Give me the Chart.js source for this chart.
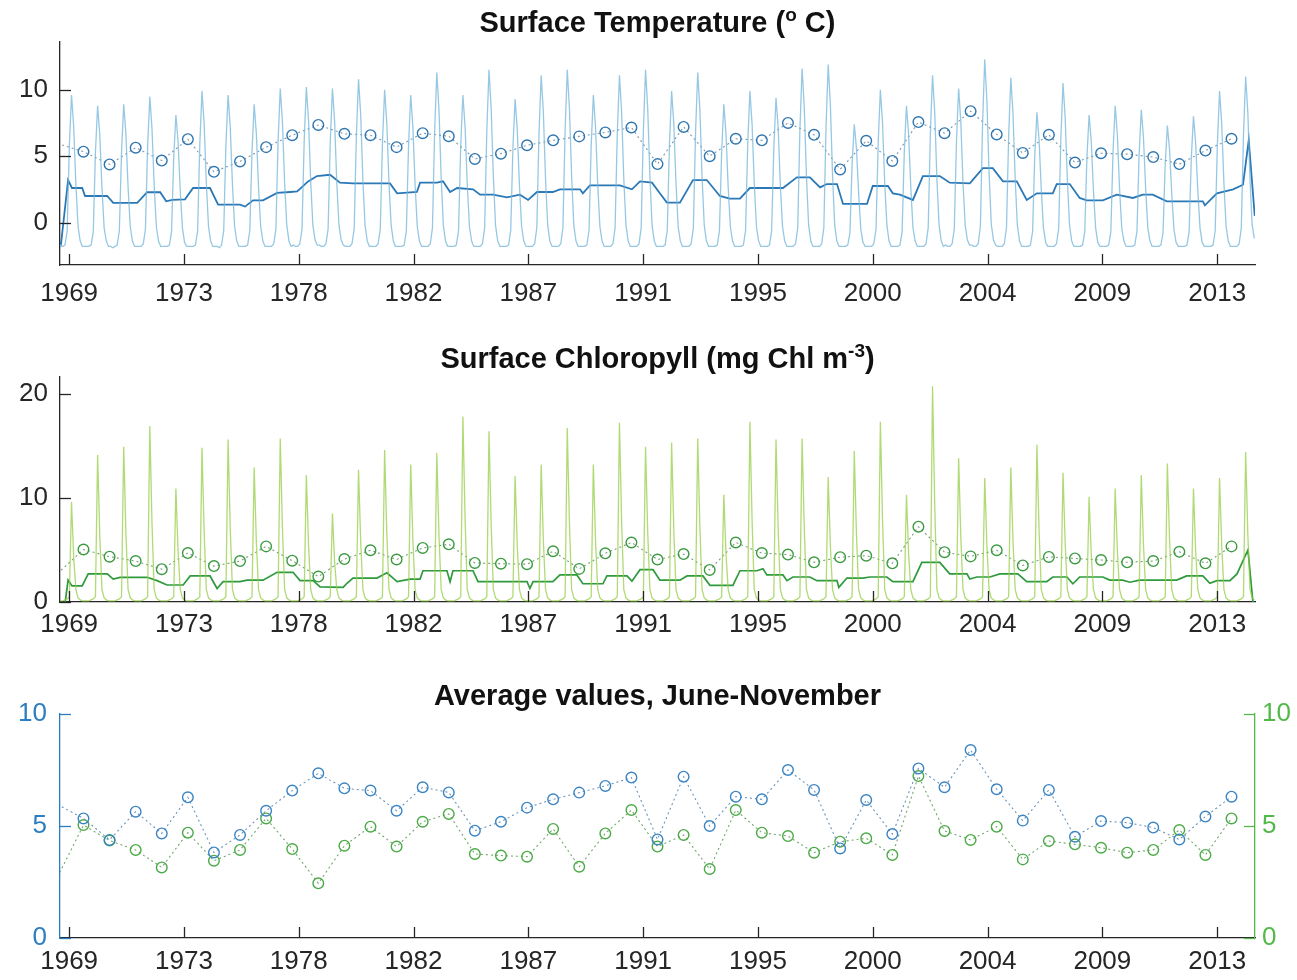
<!DOCTYPE html>
<html>
<head>
<meta charset="utf-8">
<title>Surface temperature and chlorophyll</title>
<script src="https://cdn.jsdelivr.net/npm/chart.js@4.4.1/dist/chart.umd.min.js"></script>
<style>
  body { margin: 0; background: #fff; }
  .panel { position: absolute; left: 0; width: 1297px; }
</style>
</head>
<body>
<div class="panel" style="top:0;height:315px"><canvas id="tempChart"></canvas></div>
<div class="panel" style="top:320px;height:330px"><canvas id="chlChart"></canvas></div>
<div class="panel" style="top:660px;height:320px"><canvas id="avgChart"></canvas></div>

<script>
// x axis ticks (decimal years) and their labels
const tickPos = [1969.45, 1973.85, 1978.25, 1982.65, 1987.05, 1991.45, 1995.85, 2000.25, 2004.65, 2009.05, 2013.45];
const tickLabels = ["1969", "1973", "1978", "1982", "1987", "1991", "1995", "2000", "2004", "2009", "2013"];

// monthly values, one row per year (Jan..Dec), last year ends in November
const years = [1969, 1970, 1971, 1972, 1973, 1974, 1975, 1976, 1977, 1978, 1979, 1980, 1981, 1982, 1983, 1984,
  1985, 1986, 1987, 1988, 1989, 1990, 1991, 1992, 1993, 1994, 1995, 1996, 1997, 1998, 1999, 2000, 2001,
  2002, 2003, 2004, 2005, 2006, 2007, 2008, 2009, 2010, 2011, 2012, 2013, 2014];

const tempMonthly = [
  [-1.6,-1.8,-1.8,-1.7,-0.6,5.8,9.6,7.2,2.9,-0.3,-1.4,-1.8],
  [-1.8,-1.8,-1.8,-1.7,-0.7,5.3,8.8,6.6,2.6,-0.4,-1.4,-1.8],
  [-1.8,-1.9,-1.8,-1.7,-0.6,5.3,8.9,6.7,2.7,-0.3,-1.4,-1.8],
  [-1.8,-1.8,-1.8,-1.6,-0.5,5.7,9.5,7.1,2.9,-0.3,-1.4,-1.8],
  [-1.8,-1.8,-1.8,-1.7,-0.7,4.9,8.1,6.1,2.4,-0.4,-1.5,-1.8],
  [-1.8,-1.8,-1.8,-1.7,-0.6,5.9,9.9,7.4,3.0,-0.3,-1.4,-1.8],
  [-1.8,-1.8,-1.9,-1.7,-0.6,5.8,9.6,7.2,2.9,-0.3,-1.4,-1.8],
  [-1.8,-1.8,-1.8,-1.7,-0.6,5.3,8.9,6.7,2.7,-0.3,-1.4,-1.8],
  [-1.8,-1.8,-1.8,-1.6,-0.5,6.1,10.1,7.6,3.0,-0.2,-1.4,-1.8],
  [-1.7,-1.8,-1.8,-1.6,-0.5,6.1,10.2,7.7,3.1,-0.2,-1.3,-1.7],
  [-1.7,-1.8,-1.8,-1.6,-0.5,6.1,10.1,7.6,3.0,-0.2,-1.3,-1.7],
  [-1.8,-1.8,-1.8,-1.6,-0.5,6.5,10.8,8.1,3.2,-0.2,-1.4,-1.8],
  [-1.8,-1.8,-1.8,-1.6,-0.5,6.0,10.0,7.5,3.0,-0.2,-1.4,-1.8],
  [-1.8,-1.8,-1.8,-1.7,-0.6,5.8,9.6,7.2,2.9,-0.3,-1.4,-1.8],
  [-1.8,-1.8,-1.8,-1.6,-0.4,6.8,11.3,8.5,3.4,-0.2,-1.4,-1.8],
  [-1.8,-1.8,-1.8,-1.7,-0.6,5.8,9.6,7.2,2.9,-0.3,-1.4,-1.8],
  [-1.8,-1.8,-1.8,-1.6,-0.4,6.9,11.5,8.6,3.5,-0.2,-1.4,-1.8],
  [-1.8,-1.8,-1.8,-1.7,-0.6,5.6,9.3,7.0,2.8,-0.3,-1.4,-1.8],
  [-1.8,-1.8,-1.8,-1.6,-0.4,6.7,11.1,8.3,3.3,-0.2,-1.4,-1.8],
  [-1.8,-1.8,-1.8,-1.6,-0.4,6.9,11.5,8.6,3.5,-0.2,-1.4,-1.8],
  [-1.8,-1.8,-1.8,-1.7,-0.6,5.8,9.6,7.2,2.9,-0.3,-1.4,-1.8],
  [-1.8,-1.8,-1.8,-1.6,-0.4,6.7,11.1,8.3,3.3,-0.2,-1.4,-1.8],
  [-1.8,-1.8,-1.8,-1.6,-0.4,6.9,11.5,8.6,3.5,-0.2,-1.4,-1.8],
  [-1.8,-1.8,-1.8,-1.7,-0.6,5.9,9.9,7.4,3.0,-0.3,-1.4,-1.8],
  [-1.8,-1.8,-1.8,-1.6,-0.4,6.8,11.3,8.5,3.4,-0.2,-1.4,-1.8],
  [-1.8,-1.8,-1.8,-1.7,-0.6,5.3,8.9,6.7,2.7,-0.3,-1.4,-1.8],
  [-1.8,-1.8,-1.8,-1.7,-0.6,5.9,9.9,7.4,3.0,-0.3,-1.4,-1.8],
  [-1.8,-1.8,-1.8,-1.7,-0.6,5.6,9.4,7.1,2.8,-0.3,-1.4,-1.8],
  [-1.8,-1.8,-1.8,-1.6,-0.4,7.0,11.6,8.7,3.5,-0.2,-1.4,-1.8],
  [-1.8,-1.8,-1.8,-1.6,-0.4,7.1,11.9,8.9,3.6,-0.2,-1.4,-1.8],
  [-1.8,-1.8,-1.8,-1.7,-0.8,4.4,7.4,5.6,2.2,-0.5,-1.5,-1.8],
  [-1.8,-1.8,-1.8,-1.6,-0.5,6.0,10.0,7.5,3.0,-0.2,-1.4,-1.8],
  [-1.8,-1.8,-1.8,-1.7,-0.7,5.3,8.8,6.6,2.6,-0.4,-1.4,-1.8],
  [-1.8,-1.8,-1.8,-1.6,-0.4,6.7,11.1,8.3,3.3,-0.2,-1.4,-1.8],
  [-1.7,-1.8,-1.8,-1.6,-0.5,6.1,10.1,7.6,3.0,-0.2,-1.3,-1.7],
  [-1.7,-1.8,-1.8,-1.6,-0.3,7.4,12.3,9.2,3.7,-0.1,-1.3,-1.7],
  [-1.8,-1.8,-1.8,-1.6,-0.4,6.5,10.9,8.2,3.3,-0.2,-1.4,-1.8],
  [-1.8,-1.8,-1.8,-1.7,-0.7,5.0,8.3,6.2,2.5,-0.4,-1.5,-1.8],
  [-1.8,-1.8,-1.8,-1.6,-0.5,6.3,10.5,7.9,3.2,-0.2,-1.4,-1.8],
  [-1.8,-1.8,-1.8,-1.7,-0.7,4.9,8.1,6.1,2.4,-0.4,-1.5,-1.8],
  [-1.8,-1.8,-1.8,-1.7,-0.7,5.3,8.8,6.6,2.6,-0.4,-1.4,-1.8],
  [-1.8,-1.8,-1.8,-1.7,-0.7,5.1,8.5,6.4,2.6,-0.4,-1.4,-1.8],
  [-1.8,-1.8,-1.8,-1.7,-0.8,4.4,7.3,5.5,2.2,-0.5,-1.5,-1.8],
  [-1.8,-1.8,-1.8,-1.7,-0.7,4.8,8.0,6.0,2.4,-0.4,-1.5,-1.8],
  [-1.8,-1.8,-1.8,-1.7,-0.6,5.9,9.9,7.4,3.0,-0.3,-1.4,-1.8],
  [-1.8,-1.8,-1.8,-1.6,-0.4,6.6,11.0,8.3,3.3,-0.2,-1.2]
];

const chlMonthly = [
  [0.1,0.1,0.1,0.2,0.3,0.5,9.6,4.3,1.2,0.4,0.2,0.1],
  [0.1,0.1,0.1,0.2,0.3,0.5,14.1,6.3,1.2,0.4,0.2,0.1],
  [0.1,0.1,0.1,0.2,0.3,0.5,14.9,6.7,1.2,0.4,0.2,0.1],
  [0.1,0.1,0.1,0.2,0.3,0.5,16.9,7.6,1.2,0.4,0.2,0.1],
  [0.1,0.1,0.1,0.2,0.3,0.5,10.9,4.9,1.2,0.4,0.2,0.1],
  [0.1,0.1,0.1,0.2,0.3,0.5,14.8,6.7,1.2,0.4,0.2,0.1],
  [0.1,0.1,0.1,0.2,0.3,0.5,15.6,7.0,1.2,0.4,0.2,0.1],
  [0.1,0.1,0.1,0.2,0.3,0.5,12.9,5.8,1.2,0.4,0.2,0.1],
  [0.1,0.1,0.1,0.2,0.3,0.5,15.7,7.1,1.2,0.4,0.2,0.1],
  [0.1,0.1,0.1,0.2,0.3,0.5,12.2,5.5,1.2,0.4,0.2,0.1],
  [0.1,0.1,0.1,0.2,0.3,0.5,8.5,3.8,1.2,0.4,0.2,0.1],
  [0.1,0.1,0.1,0.2,0.3,0.5,12.7,5.7,1.2,0.4,0.2,0.1],
  [0.1,0.1,0.1,0.2,0.3,0.5,14.6,6.6,1.2,0.4,0.2,0.1],
  [0.1,0.1,0.1,0.2,0.3,0.5,13.2,5.9,1.2,0.4,0.2,0.1],
  [0.1,0.1,0.1,0.2,0.3,0.5,14.3,6.4,1.2,0.4,0.2,0.1],
  [0.1,0.1,0.1,0.2,0.3,0.5,17.8,8.0,1.2,0.4,0.2,0.1],
  [0.1,0.1,0.1,0.2,0.3,0.5,16.4,7.4,1.2,0.4,0.2,0.1],
  [0.1,0.1,0.1,0.2,0.3,0.5,12.1,5.4,1.2,0.4,0.2,0.1],
  [0.1,0.1,0.1,0.2,0.3,0.5,13.2,5.9,1.2,0.4,0.2,0.1],
  [0.1,0.1,0.1,0.2,0.3,0.5,16.7,7.5,1.2,0.4,0.2,0.1],
  [0.1,0.1,0.1,0.2,0.3,0.5,13.2,5.9,1.2,0.4,0.2,0.1],
  [0.1,0.1,0.1,0.2,0.3,0.5,17.2,7.7,1.2,0.4,0.2,0.1],
  [0.1,0.1,0.1,0.2,0.3,0.5,14.9,6.7,1.2,0.4,0.2,0.1],
  [0.1,0.1,0.1,0.2,0.3,0.5,15.3,6.9,1.2,0.4,0.2,0.1],
  [0.1,0.1,0.1,0.2,0.3,0.5,15.7,7.1,1.2,0.4,0.2,0.1],
  [0.1,0.1,0.1,0.2,0.3,0.5,10.3,4.6,1.2,0.4,0.2,0.1],
  [0.1,0.1,0.1,0.2,0.3,0.5,17.3,7.8,1.2,0.4,0.2,0.1],
  [0.1,0.1,0.1,0.2,0.3,0.5,15.6,7.0,1.2,0.4,0.2,0.1],
  [0.1,0.1,0.1,0.2,0.3,0.5,15.7,7.1,1.2,0.4,0.2,0.1],
  [0.1,0.1,0.1,0.2,0.3,0.5,12.0,5.4,1.2,0.4,0.2,0.1],
  [0.1,0.1,0.1,0.2,0.3,0.5,14.5,6.5,1.2,0.4,0.2,0.1],
  [0.1,0.1,0.1,0.2,0.3,0.5,17.3,7.8,1.2,0.4,0.2,0.1],
  [0.1,0.1,0.1,0.2,0.3,0.5,10.3,4.6,1.2,0.4,0.2,0.1],
  [0.1,0.1,0.1,0.2,0.3,0.5,20.7,9.3,1.2,0.4,0.2,0.1],
  [0.1,0.1,0.1,0.2,0.3,0.5,13.8,6.2,1.2,0.4,0.2,0.1],
  [0.1,0.1,0.1,0.2,0.3,0.5,11.9,5.4,1.2,0.4,0.2,0.1],
  [0.1,0.1,0.1,0.2,0.3,0.5,12.9,5.8,1.2,0.4,0.2,0.1],
  [0.1,0.1,0.1,0.2,0.3,0.5,15.1,6.8,1.2,0.4,0.2,0.1],
  [0.1,0.1,0.1,0.2,0.3,0.5,12.4,5.6,1.2,0.4,0.2,0.1],
  [0.1,0.1,0.1,0.2,0.3,0.5,10.1,4.5,1.2,0.4,0.2,0.1],
  [0.1,0.1,0.1,0.2,0.3,0.5,10.9,4.9,1.2,0.4,0.2,0.1],
  [0.1,0.1,0.1,0.2,0.3,0.5,12.2,5.5,1.2,0.4,0.2,0.1],
  [0.1,0.1,0.1,0.2,0.3,0.5,13.3,6.0,1.2,0.4,0.2,0.1],
  [0.1,0.1,0.1,0.2,0.3,0.5,10.9,4.9,1.2,0.4,0.2,0.1],
  [0.1,0.1,0.1,0.2,0.3,0.5,11.9,5.4,1.2,0.4,0.2,0.1],
  [0.1,0.1,0.1,0.2,0.3,0.5,14.4,6.5,1.2,0.4,0.2]
];

// running means, read as [decimal year, value]
const tempMean = [[1969.10,-1.5],[1969.14,-1.6],[1969.41,3.2],[1969.56,2.6],[1969.95,2.6],[1970.06,2.0],[1970.91,2.0],
  [1971.14,1.48],[1972.06,1.48],[1972.44,2.28],[1972.94,2.28],[1973.17,1.6],[1973.40,1.7],[1973.89,1.75],[1974.20,2.6],
  [1974.85,2.6],[1975.16,1.35],[1976.00,1.35],[1976.19,1.2],[1976.50,1.67],[1976.88,1.67],[1977.42,2.23],[1977.92,2.3],
  [1978.19,2.34],[1978.61,3.1],[1978.95,3.5],[1979.45,3.6],[1979.83,3.0],[1980.33,2.95],[1981.75,2.95],[1982.02,2.2],
  [1982.78,2.3],[1982.90,3.0],[1983.55,3.0],[1983.78,3.1],[1984.05,2.3],[1984.32,2.6],[1984.93,2.5],[1985.20,2.1],
  [1985.70,2.1],[1986.23,1.9],[1986.73,2.1],[1987.04,1.7],[1987.38,2.3],[1987.99,2.3],[1988.26,2.5],[1989.03,2.5],
  [1989.14,2.2],[1989.41,2.8],[1990.56,2.8],[1991.02,2.5],[1991.33,3.1],[1991.79,3.0],[1992.09,2.2],[1992.36,1.5],
  [1992.86,1.5],[1993.36,3.2],[1993.89,3.2],[1994.39,2.0],[1994.77,1.8],[1995.16,1.8],[1995.54,2.6],[1996.81,2.6],
  [1997.34,3.4],[1997.84,3.4],[1998.23,2.65],[1998.49,2.9],[1998.88,2.9],[1999.11,1.4],[2000.03,1.4],[2000.25,2.75],
  [2000.83,2.75],[2001.02,2.2],[2001.29,2.1],[2001.79,1.7],[2002.17,3.5],[2002.82,3.5],[2003.20,3.0],[2003.97,2.95],
  [2004.47,4.1],[2004.85,4.1],[2005.24,3.1],[2005.77,3.1],[2006.15,1.7],[2006.54,2.2],[2007.15,2.2],[2007.30,2.9],
  [2007.80,2.9],[2008.18,1.85],[2008.45,1.67],[2009.07,1.67],[2009.60,2.1],[2010.22,1.85],[2010.60,2.1],[2010.98,2.1],
  [2011.52,1.6],[2012.90,1.6],[2012.98,1.3],[2013.44,2.2],[2014.06,2.5],[2014.44,2.85],[2014.66,6.2],[2014.89,0.5]];

const chlMean = [[1969.30,0],[1969.41,2.1],[1969.56,1.54],[1969.95,1.54],[1970.18,2.7],[1970.91,2.7],[1971.14,2.2],
  [1971.40,2.37],[1972.44,2.37],[1972.82,2.05],[1973.20,1.63],[1973.82,1.63],[1974.09,2.5],[1974.85,2.5],[1975.12,1.3],
  [1975.35,1.95],[1976.00,1.95],[1976.27,2.1],[1976.88,2.1],[1977.42,2.85],[1978.03,2.85],[1978.30,2.05],[1978.80,2.05],
  [1979.07,1.45],[1979.95,1.4],[1980.10,1.8],[1980.33,2.3],[1981.25,2.3],[1981.63,2.8],[1982.02,1.95],[1982.52,2.2],
  [1982.90,2.2],[1983.01,3.0],[1983.93,3.0],[1984.05,1.95],[1984.16,3.0],[1984.93,3.0],[1985.12,1.95],[1987.00,1.95],
  [1987.11,1.3],[1987.23,1.95],[1987.99,1.95],[1988.26,2.6],[1988.91,2.6],[1989.14,1.75],[1989.91,1.75],[1990.06,2.5],
  [1990.83,2.5],[1991.02,2.0],[1991.33,3.1],[1991.83,3.1],[1992.09,2.1],[1992.86,2.1],[1993.13,2.5],[1993.74,2.5],
  [1994.01,1.6],[1994.89,1.6],[1995.16,3.0],[1995.81,3.0],[1996.04,3.2],[1996.19,2.6],[1996.81,2.6],[1996.96,2.05],
  [1997.19,2.4],[1997.84,2.4],[1998.11,2.05],[1998.88,2.05],[1998.95,1.4],[1999.26,2.3],[1999.87,2.3],[2000.14,2.4],
  [2000.79,2.4],[2001.02,1.95],[2001.79,1.95],[2002.13,3.8],[2002.82,3.8],[2003.20,2.7],[2003.86,2.7],[2003.97,2.2],
  [2004.24,2.4],[2004.74,2.4],[2005.12,2.7],[2005.81,2.7],[2006.15,1.95],[2006.92,1.95],[2007.15,2.4],[2007.69,2.4],
  [2007.92,1.75],[2008.18,2.4],[2009.07,2.4],[2009.33,2.1],[2009.83,2.1],[2010.10,1.9],[2010.48,2.1],[2011.90,2.1],
  [2012.28,2.5],[2012.90,2.5],[2013.17,1.8],[2013.44,2.05],[2013.94,2.05],[2014.21,2.7],[2014.63,5.0],[2014.82,0]];

// June-November averages (first point sits at the left edge, no marker)
const annualX = [1969, 1970, 1971, 1972, 1973, 1974, 1975, 1976, 1977, 1978, 1979, 1980, 1981, 1982, 1983, 1984,
  1985, 1986, 1987, 1988, 1989, 1990, 1991, 1992, 1993, 1994, 1995, 1996, 1997, 1998, 1999, 2000, 2001,
  2002, 2003, 2004, 2005, 2006, 2007, 2008, 2009, 2010, 2011, 2012, 2013, 2014];
const tempAnnual = [5.96, 5.34, 4.38, 5.64, 4.67, 6.28, 3.82, 4.60, 5.68, 6.58, 7.35, 6.68, 6.58, 5.68, 6.73, 6.50,
  4.79, 5.19, 5.82, 6.19, 6.49, 6.79, 7.16, 4.40, 7.20, 5.00, 6.31, 6.19, 7.50, 6.61, 4.00, 6.16, 4.64, 7.57, 6.73,
  8.39, 6.64, 5.24, 6.61, 4.52, 5.22, 5.15, 4.93, 4.40, 5.42, 6.31];
const chlAnnual = [2.72, 5.04, 4.35, 3.93, 3.15, 4.70, 3.45, 3.93, 5.34, 3.97, 2.44, 4.12, 4.97, 4.08, 5.19, 5.54,
  3.75, 3.68, 3.63, 4.87, 3.18, 4.67, 5.71, 4.08, 4.60, 3.08, 5.71, 4.70, 4.55, 3.81, 4.30, 4.45, 3.71, 7.23, 4.78,
  4.38, 4.97, 3.51, 4.33, 4.18, 4.03, 3.81, 3.93, 4.82, 3.71, 5.34];

const tempYTicks = [0, 5, 10];
const chlYTicks = [0, 10, 20];
const avgYTicks = [0, 5, 10];

Chart.defaults.font.family = "'Liberation Sans', Arial, Helvetica, sans-serif";

const axisGray = "#262626";
const blueAxis = "#2a7dc1";
const greenAxis = "#52b847";

function monthlyPoints(rows) {
  let pts = [];
  rows.forEach((row, i) => {
    row.forEach((v, m) => pts.push({ x: years[i] + (m + 0.5) / 12, y: v }));
  });
  return pts;
}
const pairPoints = (arr) => arr.map(p => ({ x: p[0], y: p[1] }));
const annualPoints = (vals) => vals.map((v, i) => ({ x: annualX[i], y: v }));

// matlab style ticks pointing into the axes
const innerTicks = {
  id: "innerTicks",
  afterDraw(chart) {
    const { ctx, chartArea: a } = chart;
    ctx.save();
    ctx.lineWidth = 1.3;
    Object.values(chart.scales).forEach(s => {
      ctx.strokeStyle = s.options.border.color;
      s.ticks.forEach(t => {
        const p = Math.round(s.getPixelForValue(t.value)) + 0.5;
        ctx.beginPath();
        if (s.axis === "x") { ctx.moveTo(p, a.bottom); ctx.lineTo(p, a.bottom - 11); }
        else if (s.position === "left") { ctx.moveTo(a.left, p); ctx.lineTo(a.left + 11, p); }
        else { ctx.moveTo(a.right, p); ctx.lineTo(a.right - 11, p); }
        ctx.stroke();
      });
    });
    ctx.restore();
  }
};

// bold title with superscript pieces, centred over the axes
const panelTitle = {
  id: "panelTitle",
  afterDraw(chart, args, opts) {
    const { ctx, chartArea: a } = chart;
    const big = "bold 29px 'Liberation Sans', Arial, sans-serif";
    const small = "bold 19px 'Liberation Sans', Arial, sans-serif";
    ctx.save();
    ctx.fillStyle = "#111";
    ctx.textBaseline = "alphabetic";
    let total = 0;
    opts.parts.forEach(p => { ctx.font = p.sup ? small : big; total += ctx.measureText(p.t).width; });
    let x = (a.left + a.right) / 2 - total / 2;
    const base = a.top - opts.gap;
    opts.parts.forEach(p => {
      ctx.font = p.sup ? small : big;
      ctx.fillText(p.t, x, p.sup ? base - 11 : base);
      x += ctx.measureText(p.t).width;
    });
    ctx.restore();
  }
};

function xScale(pad, axisHeight) {
  return {
    type: "linear",
    min: 1969.1,
    max: 2014.9,
    afterBuildTicks: s => { s.ticks = tickPos.map(v => ({ value: v })); },
    afterFit: s => { s.height = axisHeight; },
    grid: { display: false, drawTicks: false },
    border: { display: true, color: axisGray, width: 1.3 },
    ticks: {
      autoSkip: false, maxRotation: 0, minRotation: 0, padding: pad,
      color: axisGray, font: { size: 26 },
      callback: (v, i) => tickLabels[i]
    }
  };
}

function yScale(min, max, ticks, color, position, pad) {
  return {
    type: "linear",
    position: position,
    min: min,
    max: max,
    afterBuildTicks: s => { s.ticks = ticks.map(v => ({ value: v })); },
    afterFit: s => { s.width = position === "left" ? 60 : 42; },
    grid: { display: false, drawTicks: false },
    border: { display: true, color: color, width: 1.3 },
    ticks: { padding: pad, color: color, font: { size: 26 } }
  };
}

function baseOptions(top, right) {
  return {
    responsive: true,
    maintainAspectRatio: false,
    devicePixelRatio: 1,
    animation: false,
    layout: { padding: { top: top, right: right, left: 0, bottom: 0 } },
    elements: { point: { radius: 0 }, line: { tension: 0 } },
    plugins: { legend: { display: false }, tooltip: { enabled: false } }
  };
}

function annualDataset(vals, color, lineColor, axis) {
  return {
    data: annualPoints(vals),
    yAxisID: axis,
    borderColor: lineColor,
    borderWidth: 1.1,
    borderDash: [2, 3],
    pointStyle: "circle",
    pointRadius: ctx => ctx.dataIndex === 0 ? 0 : 5.3,
    pointBorderColor: color,
    pointBackgroundColor: "rgba(0,0,0,0)",
    pointBorderWidth: 1.4
  };
}

// panel 1: surface temperature
let opt1 = baseOptions(42, 42);
opt1.scales = { x: xScale(13, 315 - 265), y: yScale(-3.2, 13.6, tempYTicks, axisGray, "left", 12) };
opt1.plugins.panelTitle = { parts: [{ t: "Surface Temperature (" }, { t: "o", sup: true }, { t: " C)" }], gap: 10 };
new Chart(document.getElementById("tempChart"), {
  type: "line",
  data: {
    datasets: [
      { data: monthlyPoints(tempMonthly), borderColor: "rgba(115,182,218,0.75)", borderWidth: 1.3 },
      { data: pairPoints(tempMean), borderColor: "#2b78b6", borderWidth: 1.8 },
      annualDataset(tempAnnual, "#2f76b0", "#7b98b2", "y")
    ]
  },
  options: opt1,
  plugins: [innerTicks, panelTitle]
});

// panel 2: surface chlorophyll
let opt2 = baseOptions(57, 42);
opt2.scales = { x: xScale(7.5, 650 - 602), y: yScale(0, 21.6, chlYTicks, axisGray, "left", 12) };
opt2.plugins.panelTitle = { parts: [{ t: "Surface Chloropyll (mg Chl m" }, { t: "-3", sup: true }, { t: ")" }], gap: 9 };
new Chart(document.getElementById("chlChart"), {
  type: "line",
  data: {
    datasets: [
      { data: monthlyPoints(chlMonthly), borderColor: "rgba(150,205,70,0.75)", borderWidth: 1.3 },
      { data: pairPoints(chlMean), borderColor: "#2f9a3c", borderWidth: 1.7 },
      annualDataset(chlAnnual, "#3b9a40", "#76a176", "y")
    ]
  },
  options: opt2,
  plugins: [innerTicks, panelTitle]
});

// panel 3: june-november averages on two axes
let opt3 = baseOptions(54, 0);
opt3.scales = {
  x: xScale(8.5, 980 - 938),
  y: yScale(0, 10, avgYTicks, blueAxis, "left", 13),
  y2: yScale(0, 10, avgYTicks, greenAxis, "right", 7)
};
opt3.plugins.panelTitle = { parts: [{ t: "Average values, June-November" }], gap: 9 };
new Chart(document.getElementById("avgChart"), {
  type: "line",
  data: {
    datasets: [
      annualDataset(tempAnnual, "#3a84c4", "#6a94bb", "y"),
      annualDataset(chlAnnual, "#4aaa45", "#6fa86a", "y2")
    ]
  },
  options: opt3,
  plugins: [innerTicks, panelTitle]
});
</script>
</body>
</html>
